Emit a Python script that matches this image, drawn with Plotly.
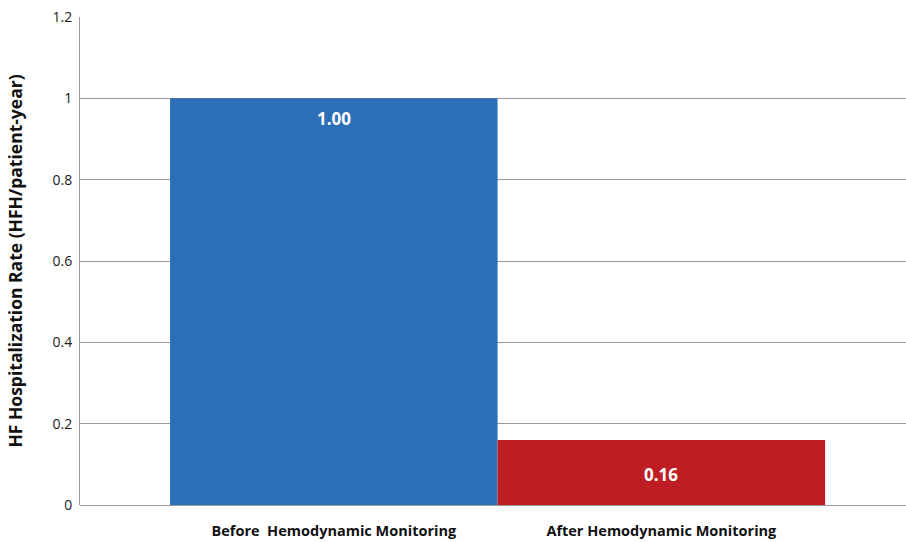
import plotly.graph_objects as go

categories = ["Before\u00a0 Hemodynamic Monitoring", "After Hemodynamic Monitoring"]
values = [1.00, 0.16]
labels = ["1.00", "0.16"]
colors = ["#2C6FB6", "#BE1E23"]
label_place = ["top", "middle"]

FONT = "Open Sans"

fig = go.Figure()
fig.add_trace(go.Bar(
    x=categories, y=values,
    marker=dict(color=colors, line=dict(width=0)),
    width=1, showlegend=False, hoverinfo="skip",
))

for cat, val, lab, place in zip(categories, values, labels, label_place):
    if place == "top":
        fig.add_annotation(x=cat, y=val, text=lab, showarrow=False,
                           yanchor="middle", yshift=-20,
                           font=dict(family=FONT, size=17, color="white", weight="bold"))
    else:
        fig.add_annotation(x=cat, y=val / 2, text=lab, showarrow=False,
                           yanchor="middle", yshift=-2,
                           font=dict(family=FONT, size=17, color="white", weight="bold"))

fig.update_layout(
    width=906, height=542,
    margin=dict(l=80, r=0, t=17, b=37),
    plot_bgcolor="white", paper_bgcolor="white",
    font=dict(family=FONT, size=13, color="#222"),
)
fig.update_xaxes(
    type="category", categoryorder="array", categoryarray=categories,
    range=[-0.775, 1.747], showgrid=False, showline=False, ticks="",
    ticklabelstandoff=15,
    tickfont=dict(family=FONT, size=14.5, color="#111", weight="bold"),
)
fig.update_yaxes(
    range=[0, 1.2], dtick=0.2, tick0=0,
    showgrid=True, gridcolor="#9a9a9a", gridwidth=1,
    zeroline=True, zerolinecolor="#9a9a9a", zerolinewidth=1,
    showline=True, linecolor="#9a9a9a", linewidth=1,
    ticks="", ticklabelstandoff=4,
    tickfont=dict(family=FONT, size=14, color="#222"),
    title=dict(text="HF Hospitalization Rate (HFH/patient-year)",
               font=dict(family=FONT, size=17.5, color="#111", weight="bold"),
               standoff=25),
)

fig.write_html("out.html")
